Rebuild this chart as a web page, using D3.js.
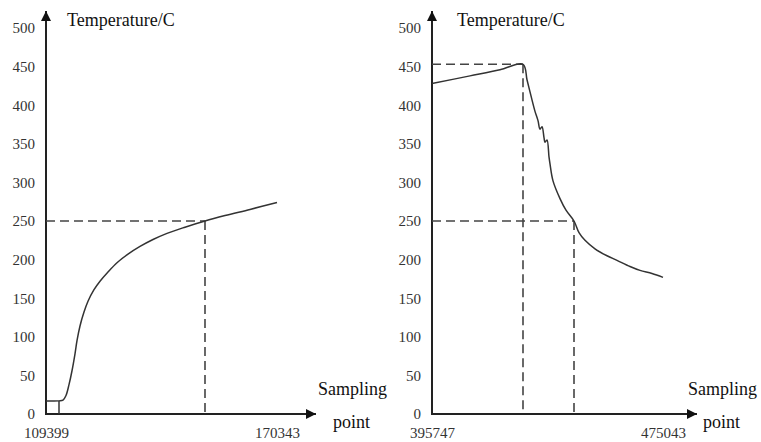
<!DOCTYPE html>
<html>
<head>
<meta charset="utf-8">
<script src="https://cdn.jsdelivr.net/npm/d3@7"></script>
<style>
  body { margin: 0; background: #fff; }
  svg { display: block; }
  svg text { font-family: "Times New Roman", "Liberation Serif", Tinos, "DejaVu Serif", "Noto Serif", serif; }
</style>
</head>
<body>
<svg id="chart" width="761" height="442"></svg>
<script>
// Heating curve (left panel)
const heatSamples = [109399, 112829, 113884, 114676, 115467, 116259, 117050, 117578, 118369, 119425,
  120480, 122063, 123646, 125757, 128131, 131033, 134199, 137629, 141323, 146071,
  151347, 156624, 163219, 170343];
const heatTemps = [17, 17, 18, 24, 38, 56, 78, 95, 114, 132,
  146, 161, 172, 184, 196, 207, 217, 226, 234, 242,
  250, 257, 265, 274];

// Cooling curve (right panel)
const coolSamples = [395747, 408791, 419089, 426985, 428358, 429731, 431104, 432134, 432821, 433507,
  434194, 434537, 435223, 435910, 436253, 437283, 439686, 441745, 444492, 446208,
  448268, 451700, 455820, 459252, 463715, 467148, 471267, 475043];
const coolTemps = [428, 438, 446, 453, 433, 412, 392, 380, 369, 372,
  358, 352, 355, 333, 324, 302, 279, 264, 250, 235,
  225, 214, 205, 199, 191, 186, 182, 177];

const yTicks = [0, 50, 100, 150, 200, 250, 300, 350, 400, 450, 500];
const heatXTicks = [109399, 170343];
const coolXTicks = [395747, 475043];

// reference markers: [sample, temperature]
const heatMarks = [[151347, 250]];
const heatStart = [112829, 17];
const coolMarks = [[426985, 453], [444492, 250]];

const svg = d3.select('#chart');

const y = d3.scaleLinear().domain([0, 500]).range([414, 28]);

const defs = svg.append('defs');
defs.append('marker')
  .attr('id', 'arrow')
  .attr('viewBox', '0 0 10 10')
  .attr('refX', 10).attr('refY', 5)
  .attr('markerWidth', 5).attr('markerHeight', 5)
  .attr('markerUnits', 'strokeWidth')
  .attr('orient', 'auto')
  .append('path')
  .attr('d', 'M0,0 L10,5 L0,10 Z')
  .attr('fill', '#111');

function drawPanel(p) {
  const x = d3.scaleLinear().domain(p.xDomain).range(p.xRange);
  const g = svg.append('g');

  // y tick labels
  const yAxis = g.append('g')
    .attr('transform', `translate(${p.xRange[0] - 11},0)`)
    .call(d3.axisLeft(y).tickValues(yTicks).tickSize(0).tickPadding(0).tickFormat(d3.format('d')));
  yAxis.select('.domain').remove();
  yAxis.selectAll('text')
    .attr('font-size', 15)
    .attr('fill', '#333');

  // x tick labels
  const xAxis = g.append('g')
    .attr('transform', `translate(0,${y(0)})`)
    .call(d3.axisBottom(x).tickValues(p.xTicks).tickSize(0).tickPadding(13).tickFormat(d3.format('d')));
  xAxis.select('.domain').remove();
  xAxis.selectAll('text')
    .attr('font-size', 15)
    .attr('fill', '#333');

  // axis lines with arrows
  g.append('line')
    .attr('x1', p.xRange[0]).attr('y1', y(0) + 1)
    .attr('x2', p.xRange[0]).attr('y2', 11)
    .attr('stroke', '#222').attr('stroke-width', 2)
    .attr('marker-end', 'url(#arrow)');
  g.append('line')
    .attr('x1', p.xRange[0] - 1).attr('y1', y(0))
    .attr('x2', p.arrowX).attr('y2', y(0))
    .attr('stroke', '#222').attr('stroke-width', 2)
    .attr('marker-end', 'url(#arrow)');

  // dashed guide lines
  const dash = g.append('g')
    .attr('stroke', '#444').attr('stroke-width', 1.6)
    .attr('stroke-dasharray', '9,5').attr('fill', 'none');
  p.marks.forEach(([s, t]) => {
    dash.append('line')
      .attr('x1', x(p.xDomain[0])).attr('y1', y(t))
      .attr('x2', x(s)).attr('y2', y(t));
    dash.append('line')
      .attr('x1', x(s)).attr('y1', y(t))
      .attr('x2', x(s)).attr('y2', y(0));
  });

  // the curve
  const line = d3.line()
    .x(d => x(d[0]))
    .y(d => y(d[1]))
    .curve(d3.curveCatmullRom.alpha(0.5));
  const pts = p.samples.map((s, i) => [s, p.temps[i]]);
  g.append('path')
    .datum(pts)
    .attr('d', line)
    .attr('fill', 'none')
    .attr('stroke', '#333')
    .attr('stroke-width', 1.5);

  if (p.start) {
    g.append('line')
      .attr('x1', x(p.start[0])).attr('y1', y(p.start[1]))
      .attr('x2', x(p.start[0])).attr('y2', y(0))
      .attr('stroke', '#333').attr('stroke-width', 1.5);
  }

  // labels
  g.append('text')
    .attr('x', p.titleX).attr('y', 26)
    .attr('font-size', 18)
    .attr('fill', '#111')
    .text('Temperature/C');
  g.append('text')
    .attr('x', p.sampX).attr('y', 395)
    .attr('font-size', 18)
    .attr('fill', '#111')
    .text('Sampling');
  g.append('text')
    .attr('x', p.pointX).attr('y', 428)
    .attr('font-size', 18)
    .attr('fill', '#111')
    .text('point');
}

drawPanel({
  xDomain: [109399, 170343], xRange: [46, 277], arrowX: 316,
  xTicks: heatXTicks, samples: heatSamples, temps: heatTemps,
  marks: heatMarks, start: heatStart,
  titleX: 67, sampX: 318, pointX: 333
});

drawPanel({
  xDomain: [395747, 475043], xRange: [432, 663], arrowX: 697,
  xTicks: coolXTicks, samples: coolSamples, temps: coolTemps,
  marks: coolMarks, start: null,
  titleX: 457, sampX: 688, pointX: 703
});
</script>
</body>
</html>
